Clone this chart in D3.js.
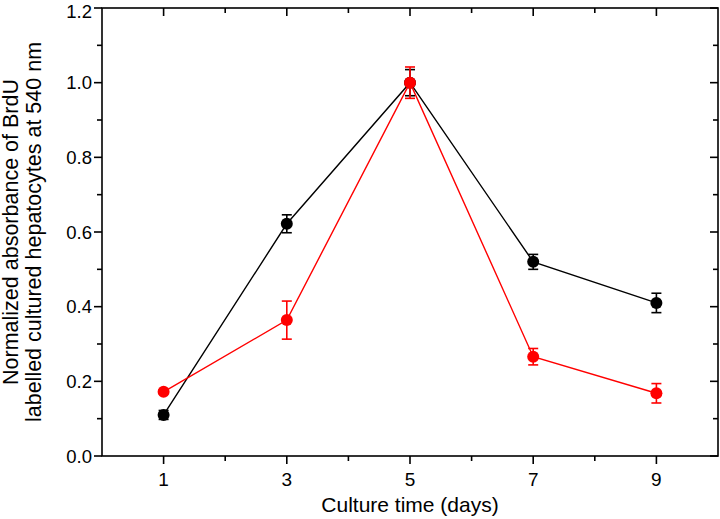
<!DOCTYPE html>
<html><head><meta charset="utf-8">
<script src="https://cdn.jsdelivr.net/npm/d3@7"></script>
<style>body{margin:0;background:#fff}text{font-family:"Liberation Sans",Arial,sans-serif;fill:#000}</style>
</head><body><svg id="c" width="720" height="519"></svg>
<script>
const days = [1, 3, 5, 7, 9];
const blackValues = [0.11, 0.622, 1.0, 0.52, 0.41];
const blackErrors = [0.012, 0.024, 0.035, 0.02, 0.026];
const redValues = [0.172, 0.364, 1.0, 0.266, 0.168];
const redErrors = [0.005, 0.051, 0.042, 0.022, 0.026];
const xTickLabels = [1, 3, 5, 7, 9];
const yTickLabels = [0.0, 0.2, 0.4, 0.6, 0.8, 1.0, 1.2];

const svg = d3.select("#c");
const L = 102, R = 718, T = 8, B = 456;
const x = d3.scaleLinear().domain([0, 10]).range([L, R]);
const y = d3.scaleLinear().domain([0, 1.2]).range([B, T]);
const SW = 1.6;

svg.append("rect").attr("x", L).attr("y", T).attr("width", R - L).attr("height", B - T)
  .attr("fill", "none").attr("stroke", "#000").attr("stroke-width", SW);

const g = svg.append("g").attr("stroke", "#000").attr("stroke-width", SW);
const tg = svg.append("g");
const xMinor = [2, 4, 6, 8];
xTickLabels.forEach(v => {
  g.append("line").attr("x1", x(v)).attr("x2", x(v)).attr("y1", B).attr("y2", B + 8);
  g.append("line").attr("x1", x(v)).attr("x2", x(v)).attr("y1", T).attr("y2", T + 8);
  tg.append("text").attr("x", x(v)).attr("y", 486).attr("text-anchor", "middle").attr("font-size", 19).text(v);
});
xMinor.forEach(v => {
  g.append("line").attr("x1", x(v)).attr("x2", x(v)).attr("y1", B).attr("y2", B + 5);
  g.append("line").attr("x1", x(v)).attr("x2", x(v)).attr("y1", T).attr("y2", T + 5);
});
yTickLabels.forEach(v => {
  g.append("line").attr("x1", L - 8).attr("x2", L).attr("y1", y(v)).attr("y2", y(v));
  g.append("line").attr("x1", R - 8).attr("x2", R).attr("y1", y(v)).attr("y2", y(v));
  tg.append("text").attr("x", 92).attr("y", Math.max(y(v) + 6.5, 17.5)).attr("text-anchor", "end").attr("font-size", 18.5).text(d3.format(".1f")(v));
});
d3.range(0.1, 1.2, 0.2).forEach(v => {
  g.append("line").attr("x1", L - 5).attr("x2", L).attr("y1", y(v)).attr("y2", y(v));
  g.append("line").attr("x1", R - 5).attr("x2", R).attr("y1", y(v)).attr("y2", y(v));
});

svg.append("text").attr("x", 410).attr("y", 512).attr("text-anchor", "middle").attr("font-size", 21).text("Culture time (days)");
const yt = svg.append("text").attr("transform", `translate(0,${(T + B) / 2}) rotate(-90)`).attr("text-anchor", "middle").attr("font-size", 21.5);
yt.append("tspan").attr("x", 0).attr("y", 18).text("Normalized absorbance of BrdU");
yt.append("tspan").attr("x", 0).attr("y", 41).text("labelled cultured hepatocytes at 540 nm");

function series(vals, errs, color) {
  const data = days.map((d, i) => ({d, v: vals[i], e: errs[i]}));
  svg.append("path").datum(data).attr("fill", "none").attr("stroke", color).attr("stroke-width", 1.4)
    .attr("d", d3.line().x(p => x(p.d)).y(p => y(p.v)));
  const eg = svg.append("g").attr("stroke", color).attr("stroke-width", 1.6);
  data.forEach(p => {
    eg.append("line").attr("x1", x(p.d)).attr("x2", x(p.d)).attr("y1", y(p.v - p.e)).attr("y2", y(p.v + p.e));
    [p.v - p.e, p.v + p.e].forEach(w => eg.append("line").attr("x1", x(p.d) - 5).attr("x2", x(p.d) + 5).attr("y1", y(w)).attr("y2", y(w)));
  });
  svg.append("g").selectAll("circle").data(data).join("circle")
    .attr("cx", p => x(p.d)).attr("cy", p => y(p.v)).attr("r", 6).attr("fill", color);
}
series(blackValues, blackErrors, "#000");
series(redValues, redErrors, "#f00");
</script></body></html>
